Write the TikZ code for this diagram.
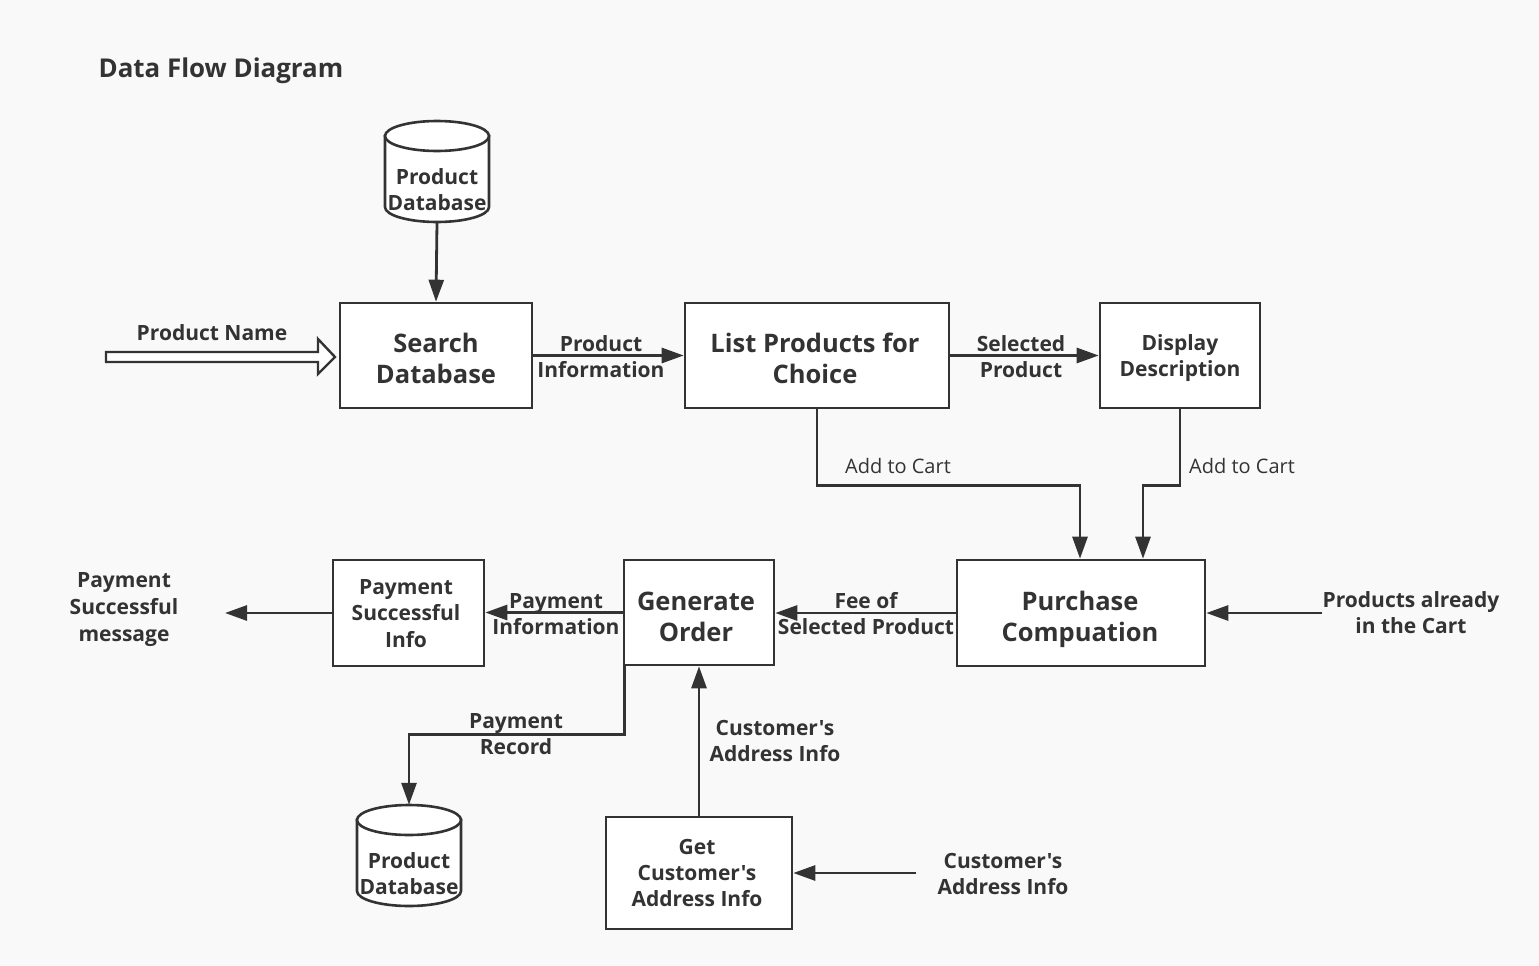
\documentclass[tikz,border=0pt]{standalone}
\usepackage{fontspec}
\setmainfont{Open Sans}[Ligatures=TeXOff]
\usetikzlibrary{arrows.meta}
\definecolor{ink}{HTML}{333333}
\definecolor{bgc}{HTML}{F9F9F9}
\tikzset{
  proc/.style={draw=ink, fill=white, line width=2.6pt, inner sep=0pt},
  btext/.style={text=ink, align=center, inner sep=0pt, font=\bfseries\fontsize{25.5}{31}\selectfont},
  lbl/.style={text=ink, align=center, inner sep=0pt, font=\bfseries\fontsize{21}{26}\selectfont},
  lblr/.style={text=ink, align=center, inner sep=0pt, font=\fontsize{20}{24}\selectfont},
  flow/.style={draw=ink, line width=2.8pt, -{Triangle[length=22pt,width=15pt]}},
  dbbox/.style={inner sep=0pt, minimum width=104pt, minimum height=101pt},
  dbline/.style={draw=ink, fill=white, line width=2.6pt}
}
\begin{document}
\begin{tikzpicture}[x=1pt,y=-1pt]
\fill[bgc] (0,0) rectangle (1539,966);
\useasboundingbox (0,0) rectangle (1539,966);

% title
\node[text=ink, inner sep=0pt, font=\bfseries\fontsize{25.9}{30}\selectfont] (title) at (221,71) {Data Flow Diagram};

% top database cylinder
\node[dbbox] (db1) at (437,171.5) {};
\path[dbline] (385,136) -- (385,207) arc[start angle=180, end angle=360, x radius=52pt, y radius=15pt] -- (489,136) -- cycle;
\path[dbline] (437,136) ellipse [x radius=52pt, y radius=15pt];
\node[lbl] (db1t) at (437,189.5) {Product\\Database};

% bottom database cylinder
\node[dbbox] (db2) at (409,855.5) {};
\path[dbline] (357,820) -- (357,891) arc[start angle=180, end angle=360, x radius=52pt, y radius=15pt] -- (461,820) -- cycle;
\path[dbline] (409,820) ellipse [x radius=52pt, y radius=15pt];
\node[lbl] (db2t) at (409,873.5) {Product\\Database};

% process boxes
\node[proc, minimum width=192pt, minimum height=105pt] (search) at (436,355.5) {};
\node[btext] (searcht) at (436,358.5) {Search\\Database};
\node[proc, minimum width=264pt, minimum height=105pt] (list) at (817,355.5) {};
\node[btext] (listt) at (815,358.5) {List Products for\\Choice};
\node[proc, minimum width=160pt, minimum height=105pt] (disp) at (1180,355.5) {};
\node[lbl] (dispt) at (1180,358.5) {Display\\Description};
\node[proc, minimum width=248pt, minimum height=106pt] (purch) at (1081,613) {};
\node[btext] (purcht) at (1080,619) {Purchase\\Compuation};
\node[proc, minimum width=150pt, minimum height=105pt] (gen) at (699,612.5) {};
\node[btext] (gent) at (696,616.5) {Generate\\Order};
\node[proc, minimum width=151pt, minimum height=106pt] (pay) at (408.5,613) {};
\node[lbl, font=\bfseries\fontsize{21}{26.5}\selectfont] (payt) at (406,613.5) {Payment\\Successful\\Info};
\node[proc, minimum width=186pt, minimum height=112pt] (getc) at (699,873) {};
\node[lbl] (getct) at (697,873) {Get\\Customer's\\Address Info};

% external labels
\node[lbl] (pac) at (1411,613) {Products already\\in the Cart};
\node[lbl, font=\bfseries\fontsize{21}{27}\selectfont] (msg) at (124,610) {Payment\\Successful\\message};
\node[lbl] (cai) at (1003,873.5) {Customer's\\Address Info};
\node[lbl] (pname) at (212,333) {Product Name};
\coordinate (msgend) at (225,613);
\coordinate (caistart) at (916,873);

% hollow input arrow
\path[draw=ink, fill=white, line width=2.4pt, line join=miter]
  (106,352) -- (318,352) -- (318,339) -- (335,357) -- (318,374) -- (318,362) -- (106,362) -- cycle;

% flows
\draw[flow] (db1.south) -- (search.north);
\draw[flow] (search.east) -- (list.west);
\node[lbl] (l1) at (601,356.5) {Product\\Information};
\draw[flow] (list.east) -- (disp.west);
\node[lbl] (l2) at (1021,356.5) {Selected\\Product};
\draw[flow] (list.south) -- ++(0,76) -| ([xshift=-1pt]purch.north);
\node[lblr] (l3) at (898,466) {Add to Cart};
\draw[flow] (disp.south) -- ++(0,76) -| ([xshift=62pt]purch.north);
\node[lblr] (l4) at (1242,466) {Add to Cart};
\draw[flow] (pac.west) -- (purch.east);
\draw[flow] (purch.west) -- (purch.west -| gen.east);
\node[lbl] (l5) at (866,614) {Fee of\\Selected Product};
\draw[flow] (gen.west) -- (gen.west -| pay.east);
\node[lbl] (l6) at (556,614) {Payment\\Information};
\draw[flow] (pay.west) -- (msgend);
\draw[flow] ([xshift=2pt]gen.south west) -- ++(0,68) -| (db2.north);
\node[lbl] (l7) at (516,734.5) {Payment\\Record};
\draw[flow] (getc.north) -- (gen.south);
\node[lbl] (l8) at (775,740.5) {Customer's\\Address Info};
\draw[flow] (caistart) -- (getc.east);
\end{tikzpicture}
\end{document}
